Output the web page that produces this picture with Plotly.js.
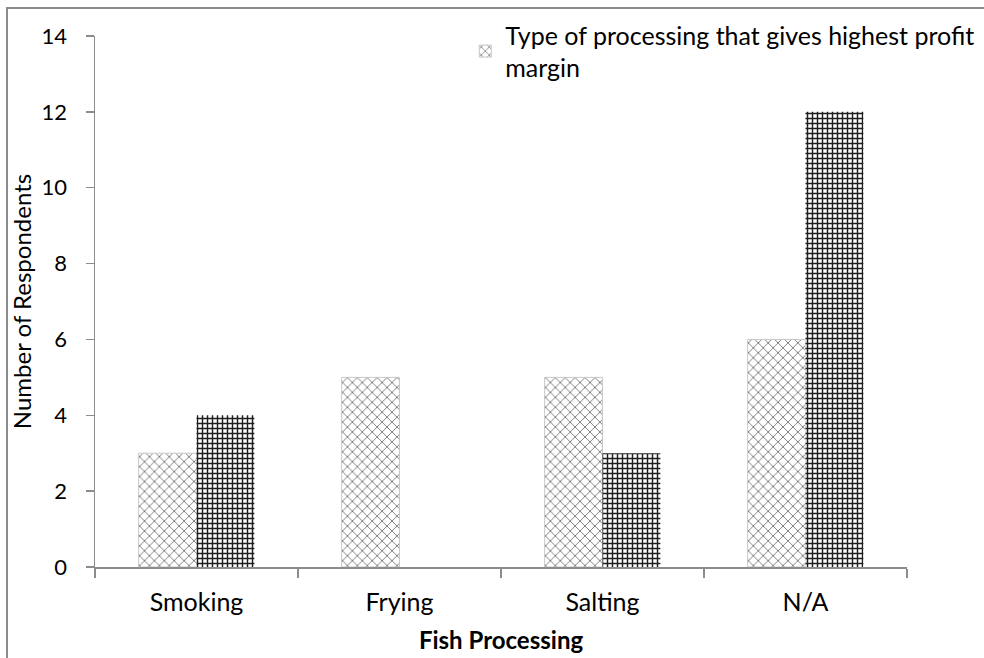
<!DOCTYPE html>
<html>
<head>
<meta charset="utf-8">
<script src="https://cdn.plot.ly/plotly-3.0.1.min.js"></script>
<style>
  html, body { margin: 0; padding: 0; background: #fff; }
  #wrap { position: relative; width: 984px; height: 658px; overflow: hidden; }
  #frame { position: absolute; left: 6px; top: 7px; width: 1200px; height: 800px;
           border-left: 2px solid #8c8c8c; border-top: 2px solid #8c8c8c; pointer-events: none; }
  #chart { position: absolute; left: 0; top: 0; width: 984px; height: 658px; }
</style>
</head>
<body>
<div id="wrap">
  <div id="chart"></div>
  <div id="frame"></div>
</div>
<script>
const categories = ["Smoking", "Frying", "Salting", "N/A"];
const seriesName = "Type of processing that gives highest profit<br>margin";
const series1 = [3, 5, 5, 6];
const series2 = [4, 0, 3, 12];
const yTicks = [0, 2, 4, 6, 8, 10, 12, 14];

const font = "Lato, 'Open Sans', sans-serif";

const traces = [
  {
    type: "bar", x: categories, y: series1, name: seriesName, showlegend: true,
    marker: { color: "#ffffff", line: { color: "#c8c8c8", width: 1 },
              pattern: { shape: "x", fgcolor: "#7a7a7a", bgcolor: "#ffffff", size: 7, solidity: 0.25 } }
  },
  {
    type: "bar", x: categories, y: series2, name: "", showlegend: false,
    marker: { color: "#ffffff", line: { color: "#777", width: 0 },
              pattern: { shape: "+", fgcolor: "#1e1e1e", bgcolor: "#ffffff", size: 5, solidity: 0.5 } }
  }
];

const layout = {
  width: 984, height: 658,
  margin: { l: 95, r: 77, t: 36, b: 91, autoexpand: false },
  paper_bgcolor: "#ffffff", plot_bgcolor: "#ffffff",
  barmode: "group", bargap: 0.43, bargroupgap: 0,
  font: { family: font, color: "#000", size: 24 },
  xaxis: {
    type: "category", showgrid: false, zeroline: false, automargin: true,
    showline: true, linecolor: "#8c8c8c", linewidth: 1.5,
    ticks: "outside", tickson: "boundaries", ticklen: 9, tickcolor: "#8c8c8c", tickwidth: 1.5,
    ticklabelstandoff: 12,
    tickfont: { family: font, size: 25 },
    title: { text: "<b>Fish Processing</b>", font: { family: font, size: 24 }, standoff: 17 }
  },
  yaxis: {
    range: [0, 14], tickvals: yTicks, showgrid: false, zeroline: false, automargin: true,
    showline: true, linecolor: "#8c8c8c", linewidth: 1.5,
    ticks: "outside", ticklen: 8, tickcolor: "#8c8c8c", tickwidth: 1.5,
    ticklabelstandoff: 14,
    tickfont: { family: font, size: 22 },
    title: { text: "Number of Respondents", font: { family: font, size: 24 }, standoff: 3 }
  },
  legend: {
    x: 0.456, y: 1.045, xanchor: "left", yanchor: "top",
    bgcolor: "rgba(0,0,0,0)", font: { family: font, size: 25 },
    itemwidth: 30, tracegroupgap: 0
  }
};

Plotly.newPlot("chart", traces, layout, { staticPlot: true, displayModeBar: false });
</script>
</body>
</html>
